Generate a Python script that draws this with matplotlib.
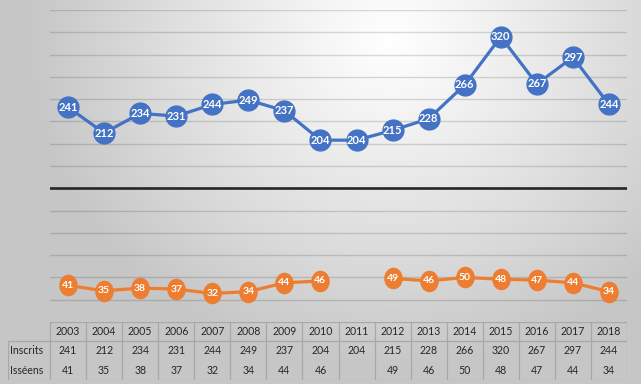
import numpy as np
import matplotlib
matplotlib.use("Agg")
import matplotlib.pyplot as plt
from matplotlib.path import Path

years = ["2003", "2004", "2005", "2006", "2007", "2008", "2009", "2010",
         "2011", "2012", "2013", "2014", "2015", "2016", "2017", "2018"]
inscrits = [241, 212, 234, 231, 244, 249, 237, 204,
            204, 215, 228, 266, 320, 267, 297, 244]
isseens = [41, 35, 38, 37, 32, 34, 44, 46,
           None, 49, 46, 50, 48, 47, 44, 34]
row_labels = ["Inscrits", "Isséens"]

C_BLUE = "#4472C4"
C_ORANGE = "#ED7D31"
C_TABLE = "#a8a8a8"
FONT = "Lato"

W, H = 641, 384
fig = plt.figure(figsize=(W / 100, H / 100), dpi=100)

# radial grey background
bg = fig.add_axes([0, 0, 1, 1], zorder=-10)
yy, xx = np.mgrid[0:H, 0:W]
d = np.hypot((xx - 390) / 1.0, (yy - 40) / 0.9)
t = np.clip(d / 360, 0, 1) ** 1.1
shade = 1 - 0.22 * t
bg.imshow(np.dstack([shade] * 3), extent=[0, W, H, 0], aspect="auto")
bg.axis("off")

# main plot
x = np.arange(len(years))
ax = fig.add_axes([50 / W, 62 / H, 577 / W, 312 / H])
ax.patch.set_alpha(0)
ax.set_xlim(-0.5, len(years) - 0.5)
ax.set_ylim(0, 350)
for v in range(25, 351, 25):
    if v != 150:
        ax.axhline(v, color="black", alpha=0.14, lw=1, zorder=1)
ax.axhline(150, color="#262626", lw=1.9, zorder=1)
for s in ax.spines.values():
    s.set_visible(False)
ax.set_xticks([])
ax.set_yticks([])

ax.plot(x, inscrits, color=C_BLUE, lw=2.3, marker="o", ms=15,
        mec=C_BLUE, mfc=C_BLUE, zorder=3)
for xi, v in zip(x, inscrits):
    ax.text(xi, v, str(v), ha="center", va="center", color="white",
            fontsize=8, fontweight="bold", family=FONT, zorder=4)

ellipse = Path.unit_circle().transformed(
    matplotlib.transforms.Affine2D().scale(0.85, 1.0))
iss = np.array([np.nan if v is None else v for v in isseens], dtype=float)
ax.plot(x, iss, color=C_ORANGE, lw=2.3, marker=ellipse, ms=14.5,
        mec=C_ORANGE, mfc=C_ORANGE, zorder=3)
for xi, v in zip(x, isseens):
    if v is not None:
        ax.text(xi, v, str(v), ha="center", va="center", color="white",
                fontsize=7.5, fontweight="bold", family=FONT, zorder=4)

# data table
lab_w = 42 / 36
tab = fig.add_axes([8 / W, 4 / H, 619 / W, 58 / H])
tab.patch.set_alpha(0)
tab.set_xlim(-0.5 - lab_w, len(years) - 0.5)
tab.set_ylim(0, 3)
tab.axis("off")
left = -0.5 - lab_w
right = len(years) - 0.5
kw = dict(color=C_TABLE, lw=0.9)
tab.plot([-0.5, right], [3, 3], **kw)
tab.plot([left, right], [2, 2], **kw)
tab.plot([left, right], [0, 0], **kw)
tab.plot([left, left], [0, 2], **kw)
for i in range(len(years) + 1):
    tab.plot([i - 0.5, i - 0.5], [0, 3], **kw)

tkw = dict(fontsize=7.6, family=FONT, color="#262626", va="center")
for i, yr in enumerate(years):
    tab.text(i, 2.5, yr, ha="center", **tkw)
    tab.text(i, 1.5, str(inscrits[i]), ha="center", **tkw)
    if isseens[i] is not None:
        tab.text(i, 0.5, str(isseens[i]), ha="center", **tkw)
tab.text(left + 0.06, 1.5, row_labels[0], ha="left", **tkw)
tab.text(left + 0.06, 0.5, row_labels[1], ha="left", **tkw)

fig.savefig("out.png", dpi=100)
